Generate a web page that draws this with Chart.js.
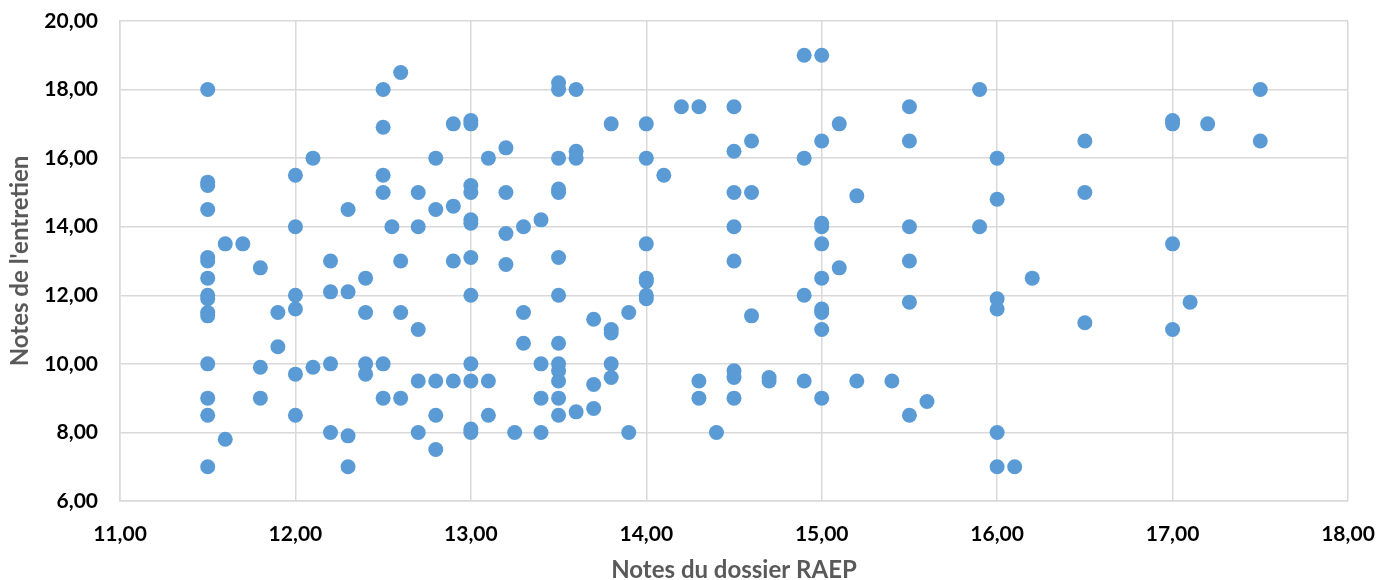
<!DOCTYPE html>
<html>
<head>
<meta charset="utf-8">
<script src="https://cdn.jsdelivr.net/npm/chart.js@4"></script>
<style>
  html, body { margin: 0; padding: 0; background: #fff; }
  #wrap { width: 1379px; height: 580px; }
</style>
</head>
<body>
<div id="wrap"><canvas id="nuage"></canvas></div>
<script>
// notes du dossier RAEP (x) / notes de l'entretien (y), groupées par colonne
var notesRaep = [
    11.5, 11.5, 11.5, 11.5, 11.5, 11.5, 11.5, 11.5, 11.5, 11.5, 11.5, 11.5, 11.5, 11.5, 11.5,
    11.6, 11.6, 11.7, 11.8, 11.8, 11.8, 11.9, 11.9,
    12.0, 12.0, 12.0, 12.0, 12.0, 12.0, 12.1, 12.1,
    12.2, 12.2, 12.2, 12.2, 12.3, 12.3, 12.3, 12.3,
    12.4, 12.4, 12.4, 12.4, 12.5, 12.5, 12.5, 12.5, 12.5, 12.5, 12.55,
    12.6, 12.6, 12.6, 12.6, 12.7, 12.7, 12.7, 12.7, 12.7,
    12.8, 12.8, 12.8, 12.8, 12.8, 12.9, 12.9, 12.9, 12.9,
    13.0, 13.0, 13.0, 13.0, 13.0, 13.0, 13.0, 13.0, 13.0, 13.0, 13.0, 13.0,
    13.1, 13.1, 13.1, 13.2, 13.2, 13.2, 13.2, 13.25,
    13.3, 13.3, 13.3, 13.4, 13.4, 13.4, 13.4,
    13.5, 13.5, 13.5, 13.5, 13.5, 13.5, 13.5, 13.5, 13.5, 13.5, 13.5, 13.5, 13.5,
    13.6, 13.6, 13.6, 13.6, 13.7, 13.7, 13.7,
    13.8, 13.8, 13.8, 13.8, 13.8, 13.9, 13.9,
    14.0, 14.0, 14.0, 14.0, 14.0, 14.0, 14.0, 14.1, 14.2,
    14.3, 14.3, 14.3, 14.4,
    14.5, 14.5, 14.5, 14.5, 14.5, 14.5, 14.5, 14.5,
    14.6, 14.6, 14.6, 14.7, 14.7,
    14.9, 14.9, 14.9, 14.9,
    15.0, 15.0, 15.0, 15.0, 15.0, 15.0, 15.0, 15.0, 15.0, 15.0,
    15.1, 15.1, 15.2, 15.2, 15.4,
    15.5, 15.5, 15.5, 15.5, 15.5, 15.5, 15.6, 15.9, 15.9,
    16.0, 16.0, 16.0, 16.0, 16.0, 16.0, 16.1, 16.2,
    16.5, 16.5, 16.5, 17.0, 17.0, 17.0, 17.0, 17.1, 17.2, 17.5, 17.5
];
var notesEntretien = [
    18.0, 15.3, 15.2, 14.5, 13.1, 13.0, 12.5, 12.0, 11.9, 11.5, 11.4, 10.0, 9.0, 8.5, 7.0,
    13.5, 7.8, 13.5, 12.8, 9.9, 9.0, 11.5, 10.5,
    15.5, 14.0, 12.0, 11.6, 9.7, 8.5, 16.0, 9.9,
    13.0, 12.1, 10.0, 8.0, 14.5, 12.1, 7.9, 7.0,
    12.5, 11.5, 10.0, 9.7, 18.0, 16.9, 15.5, 15.0, 10.0, 9.0, 14.0,
    18.5, 13.0, 11.5, 9.0, 15.0, 14.0, 11.0, 9.5, 8.0,
    16.0, 14.5, 9.5, 8.5, 7.5, 17.0, 14.6, 13.0, 9.5,
    17.1, 17.0, 15.2, 15.0, 14.2, 14.1, 13.1, 12.0, 10.0, 9.5, 8.1, 8.0,
    16.0, 9.5, 8.5, 16.3, 15.0, 13.8, 12.9, 8.0,
    14.0, 11.5, 10.6, 14.2, 10.0, 9.0, 8.0,
    18.2, 18.0, 16.0, 15.1, 15.0, 13.1, 12.0, 10.6, 10.0, 9.8, 9.5, 9.0, 8.5,
    18.0, 16.2, 16.0, 8.6, 11.3, 9.4, 8.7,
    17.0, 11.0, 10.9, 10.0, 9.6, 11.5, 8.0,
    17.0, 16.0, 13.5, 12.5, 12.4, 12.0, 11.9, 15.5, 17.5,
    17.5, 9.5, 9.0, 8.0,
    17.5, 16.2, 15.0, 14.0, 13.0, 9.8, 9.6, 9.0,
    16.5, 15.0, 11.4, 9.6, 9.5,
    19.0, 16.0, 12.0, 9.5,
    19.0, 16.5, 14.1, 14.0, 13.5, 12.5, 11.6, 11.5, 11.0, 9.0,
    17.0, 12.8, 14.9, 9.5, 9.5,
    17.5, 16.5, 14.0, 13.0, 11.8, 8.5, 8.9, 18.0, 14.0,
    16.0, 14.8, 11.9, 11.6, 8.0, 7.0, 7.0, 12.5,
    16.5, 15.0, 11.2, 17.1, 17.0, 13.5, 11.0, 11.8, 17.0, 18.0, 16.5
];

var points = notesRaep.map(function (x, i) {
    return { x: x, y: notesEntretien[i] };
});

function virgule(v) {
    return Number(v).toFixed(2).replace('.', ',');
}

var fontTick = { family: "Lato, 'Open Sans', sans-serif", size: 21, weight: 'bold' };
var fontTitreX = { family: "Lato, 'Open Sans', sans-serif", size: 24, weight: 'bold', lineHeight: 0.8 };
var fontTitreY = { family: "Lato, 'Open Sans', sans-serif", size: 24, weight: 'bold' };

var ctx = document.getElementById('nuage').getContext('2d');
var nuage = new Chart(ctx, {
    type: 'scatter',
    data: {
        datasets: [{
            label: 'Notes',
            data: points,
            backgroundColor: '#5B9BD5',
            borderWidth: 0,
            pointRadius: 7.5,
            pointHoverRadius: 7.5
        }]
    },
    options: {
        responsive: true,
        maintainAspectRatio: false,
        animation: false,
        layout: { padding: { top: 21, right: 31, left: 0, bottom: 0 } },
        plugins: {
            legend: { display: false },
            tooltip: { enabled: false }
        },
        scales: {
            x: {
                type: 'linear',
                min: 11,
                max: 18,
                ticks: {
                    stepSize: 1,
                    color: '#000',
                    font: fontTick,
                    padding: 21,
                    callback: virgule
                },
                grid: { color: '#D9D9D9', lineWidth: 1.5, drawTicks: false },
                border: { color: '#D9D9D9', width: 1.5 },
                title: {
                    display: true,
                    text: 'Notes du dossier RAEP',
                    color: '#595959',
                    font: fontTitreX,
                    padding: { top: 22, bottom: 0 }
                },
                afterFit: function (scale) {
                    scale.height = 79;
                    scale.paddingLeft = 0;
                    scale.paddingRight = 0;
                }
            },
            y: {
                min: 6,
                max: 20,
                ticks: {
                    stepSize: 2,
                    color: '#000',
                    font: fontTick,
                    padding: 22,
                    callback: virgule
                },
                grid: { color: '#D9D9D9', lineWidth: 1.5, drawTicks: false },
                border: { color: '#D9D9D9', width: 1.5 },
                title: {
                    display: true,
                    text: "Notes de l'entretien",
                    color: '#595959',
                    font: fontTitreY,
                    padding: { top: 6, bottom: 0 }
                },
                afterFit: function (scale) {
                    scale.width = 120;
                    scale.paddingTop = 0;
                    scale.paddingBottom = 0;
                }
            }
        }
    }
});
</script>
</body>
</html>
